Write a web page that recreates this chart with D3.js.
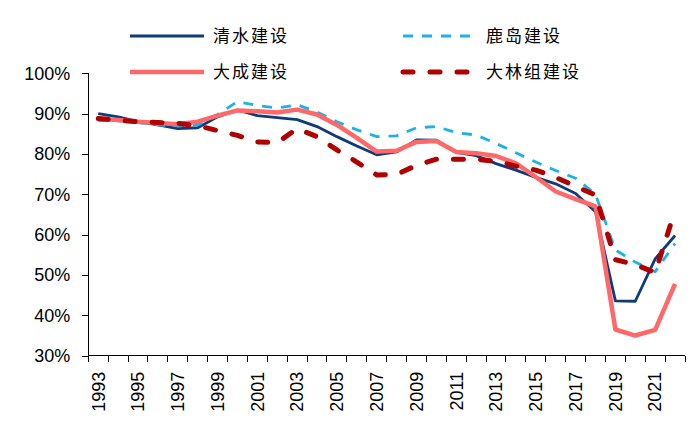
<!doctype html>
<html lang="zh">
<head>
<meta charset="UTF-8">
<title>gross margin</title>
<style>
  body { margin: 0; background: #fff; }
  .axis path, .axis line { stroke: #000; stroke-width: 1px; shape-rendering: crispEdges; }
  .axis text { font-family: "Liberation Sans", Arial, sans-serif; font-size: 18px; fill: #000; }
  .legend text { font-family: "Noto Sans CJK SC", sans-serif; font-size: 17px; letter-spacing: 2px; fill: #000; }
  .line { fill: none; stroke-linejoin: round; }
</style>
</head>
<body>
<svg width="700" height="444"></svg>
<script src="https://d3js.org/d3.v7.min.js"></script>
<script>
  const years = d3.range(1993, 2023)
  const tickYears = years.filter((y, i) => i % 2 === 0)
  const yTicks = [30, 40, 50, 60, 70, 80, 90, 100]

  const shimizu = [90.0, 89.2, 88.0, 87.2, 86.3, 86.5, 89.2, 90.9, 89.5, 89.0,
    88.5, 86.8, 84.3, 82.0, 79.8, 80.5, 83.5, 83.4, 80.4, 79.6,
    77.6, 76.0, 74.2, 72.6, 70.2, 65.7, 43.6, 43.5, 54.0, 59.8]
  const kajima = [88.3, 88.2, 87.8, 87.2, 87.0, 87.2, 89.8, 93.0, 92.0, 91.4,
    92.2, 90.4, 88.0, 86.0, 84.3, 84.5, 86.5, 86.8, 85.3, 84.7,
    82.6, 80.3, 78.0, 75.9, 74.0, 70.0, 56.2, 53.2, 50.8, 57.8]
  const taisei = [88.7, 88.4, 88.0, 87.7, 87.4, 88.0, 89.5, 90.8, 90.6, 90.3,
    91.0, 89.8, 87.2, 84.0, 80.6, 80.8, 83.0, 83.2, 80.5, 80.2,
    79.5, 77.7, 74.3, 70.7, 68.8, 67.0, 36.5, 35.0, 36.4, 47.8]
  const obayashi = [88.8, 88.4, 88.0, 87.8, 87.6, 87.0, 85.8, 84.6, 83.0, 82.8,
    86.3, 84.3, 81.0, 78.0, 74.8, 74.9, 77.2, 78.7, 78.7, 78.7,
    78.2, 77.0, 76.0, 74.2, 72.0, 69.8, 53.8, 52.6, 50.6, 66.0]

  const series = [
    {name: '清水建设', values: shimizu, color: '#0d3b7c', width: 2.8, dash: null, cap: 'butt', lx: 130, ly: 36},
    {name: '鹿岛建设', values: kajima, color: '#1ab2ec', width: 2.8, dash: '10,9', cap: 'butt', lx: 403, ly: 36},
    {name: '大成建设', values: taisei, color: '#ff6868', width: 4.5, dash: null, cap: 'butt', lx: 130, ly: 72},
    {name: '大林组建设', values: obayashi, color: '#b00000', width: 5, dash: '10,17', cap: 'round', lx: 403, ly: 72}
  ]

  const svg = d3.select('svg')

  const x = d3.scaleBand().domain(years).range([88.3, 685])
  const y = d3.scaleLinear().domain([30, 100]).range([355.7, 73.3])

  // y axis
  svg.append('g')
    .attr('class', 'axis')
    .attr('transform', 'translate(88.3,0)')
    .call(d3.axisLeft(y).tickValues(yTicks).tickSize(6).tickPadding(12).tickFormat(d => d + '%'))

  // x axis, ticks on band edges
  const xg = svg.append('g')
    .attr('class', 'axis')
    .attr('transform', 'translate(0,355.7)')
  xg.append('line')
    .attr('x1', x.range()[0]).attr('x2', x.range()[1])
  xg.selectAll('line.tk')
    .data(years.concat([2023]))
    .enter()
    .append('line')
    .attr('class', 'tk')
    .attr('x1', d => d === 2023 ? x.range()[1] : x(d))
    .attr('x2', d => d === 2023 ? x.range()[1] : x(d))
    .attr('y1', 0).attr('y2', 6)
  xg.selectAll('text')
    .data(tickYears)
    .enter()
    .append('text')
    .attr('transform', d => `translate(${x(d) + x.bandwidth() / 2},16) rotate(-90)`)
    .attr('text-anchor', 'end')
    .attr('dy', '0.35em')
    .text(d => d)

  const line = d3.line()
    .x((d, i) => x(years[i]) + x.bandwidth() / 2)
    .y(d => y(d))

  svg.append('g')
    .selectAll('path')
    .data(series)
    .enter()
    .append('path')
    .attr('class', 'line')
    .attr('d', d => line(d.values))
    .attr('stroke', d => d.color)
    .attr('stroke-width', d => d.width)
    .attr('stroke-dasharray', d => d.dash)
    .attr('stroke-linecap', d => d.cap)

  // legend
  const lg = svg.append('g').attr('class', 'legend')
  const item = lg.selectAll('g')
    .data(series)
    .enter()
    .append('g')
    .attr('transform', d => `translate(${d.lx},${d.ly})`)
  item.append('line')
    .attr('x1', 0).attr('x2', 74)
    .attr('stroke', d => d.color)
    .attr('stroke-width', d => d.width)
    .attr('stroke-dasharray', d => d.dash)
    .attr('stroke-linecap', d => d.cap)
  item.append('text')
    .attr('x', 83)
    .attr('dy', '0.36em')
    .text(d => d.name)
</script>
</body>
</html>
